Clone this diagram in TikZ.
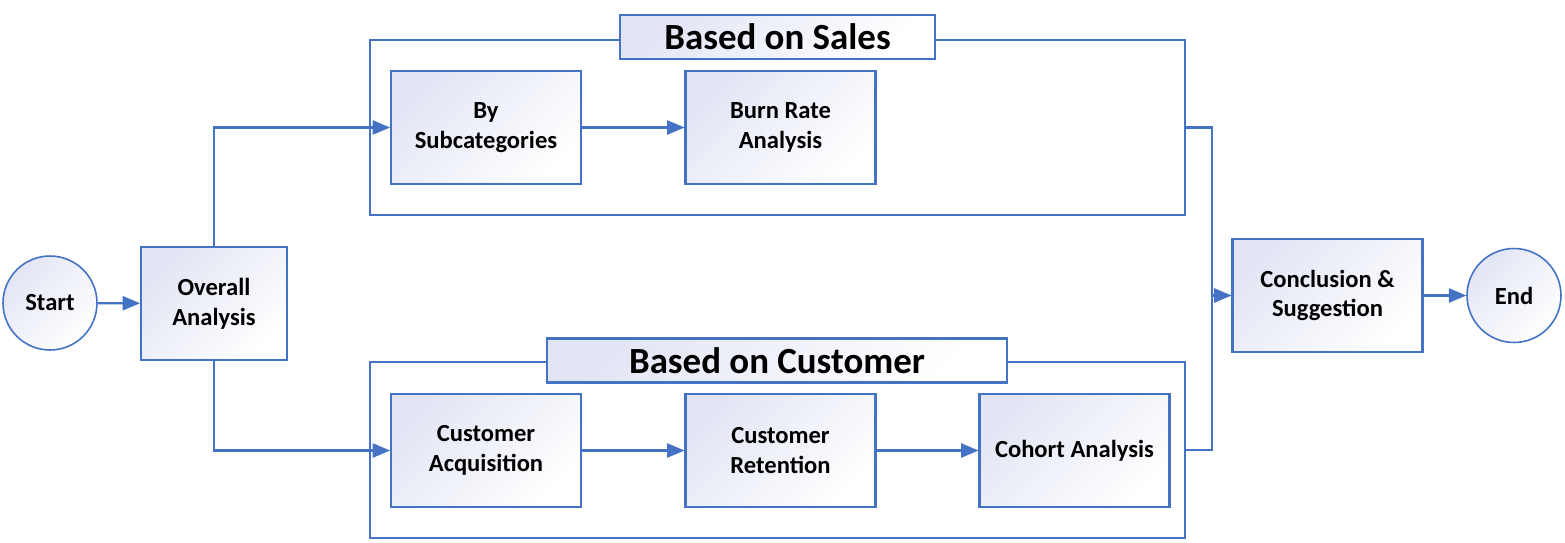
\documentclass[tikz,border=0pt]{standalone}
\usepackage{fontspec}
\setmainfont{Carlito}
\usepackage{tikz}
\usetikzlibrary{shapes,arrows,positioning,fit}

\begin{document}
\begin{tikzpicture}[x=0.02cm, y=-0.02cm]
			\definecolor{lineblue}{HTML}{4472C4}
			\definecolor{lav}{HTML}{E2E5F4}
			\tikzstyle{Shade}	= [left color=lav, right color=white, shading angle=45]
			\tikzstyle{Step}	= [rectangle, draw=lineblue, line width=1.2pt, Shade, align=center, font=\fontsize{14}{17}\selectfont\bfseries, minimum width=3.8cm, minimum height=2.26cm, inner sep=0pt]
			\tikzstyle{Term}	= [circle, draw=lineblue, line width=0.9pt, Shade, font=\fontsize{14}{17}\selectfont\bfseries, minimum size=1.88cm, inner sep=0pt]
			\tikzstyle{Group}	= [rectangle, draw=lineblue, line width=1.2pt, minimum width=16.3cm, inner sep=0pt]
			\tikzstyle{Title}	= [rectangle, draw=lineblue, line width=1.2pt, Shade, font=\fontsize{21}{24}\selectfont\bfseries, minimum height=0.88cm, inner sep=0pt]
			\tikzstyle{Flow}	= [draw=lineblue, line width=1.3pt]
			\tikzstyle{Arrow}	= [Flow, -triangle 45]
			
			\useasboundingbox (0, 0) rectangle (1565, 542);
			
			% groups
			\node (sales) at (777.5, 127.5) [Group, minimum height=3.5cm] {};
			\node (cust) at (777.5, 450) [Group, minimum height=3.52cm] {};
			\node (tsales) at (777.5, 37) [Title, minimum width=6.3cm] {Based on Sales};
			\node (tcust) at (777, 360.5) [Title, minimum width=9.2cm] {Based on Customer};
			
			% steps
			\node (start) at (50, 303) [Term] {Start};
			\node (overall) at (214, 303.5) [Step, minimum width=2.92cm] {Overall\\Analysis};
			\node (subcat) at (486, 127.5) [Step] {By\\Subcategories};
			\node (burn) at (780.5, 127.5) [Step] {Burn Rate\\Analysis};
			\node (acq) at (486, 450.5) [Step] {Customer\\Acquisition};
			\node (ret) at (780.5, 450.5) [Step] {Customer\\Retention};
			\node (cohort) at (1074.5, 450.5) [Step] {Cohort Analysis};
			\node (concl) at (1327.5, 295.5) [Step] {Conclusion \&\\Suggestion};
			\node (end) at (1514, 295.5) [Term] {End};
			\coordinate (join) at (1212, 295.5);
			
			\draw [Arrow] (start) to (overall);
			\draw [Arrow] (overall.north) |- (subcat.west);
			\draw [Arrow] (overall.south) |- (acq.west);
			\draw [Arrow] (subcat) to (burn);
			\draw [Arrow] (acq) to (ret);
			\draw [Arrow] (ret) to (cohort);
			\draw [Flow] (sales.east) -| (join);
			\draw [Flow] (cust.east) -| (join);
			\draw [Arrow] (join) to (concl.west);
			\draw [Arrow] (concl) to (end);
		\end{tikzpicture}
\end{document}
